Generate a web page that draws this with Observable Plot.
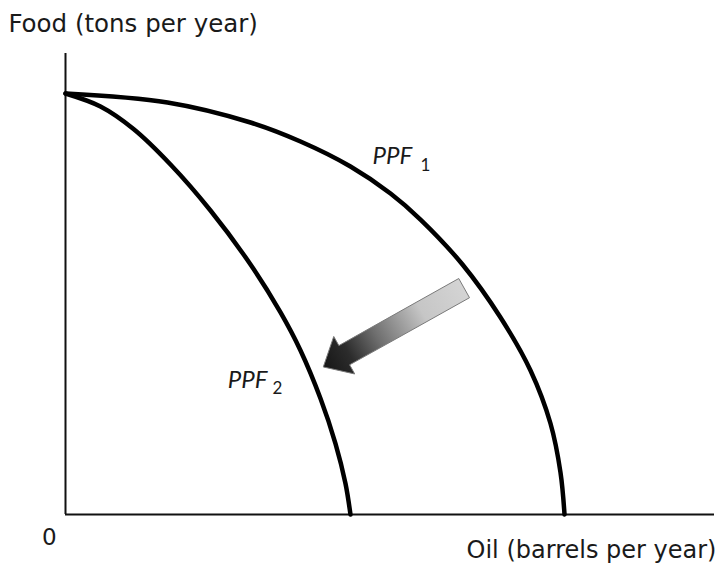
<!DOCTYPE html>
<html><head><meta charset="utf-8">
<script src="https://cdn.jsdelivr.net/npm/d3@7"></script>
<script src="https://cdn.jsdelivr.net/npm/@observablehq/plot@0.6"></script>
<style>html,body{margin:0;padding:0;background:#fff;} #chart svg{display:block;}</style>
</head><body><div id="chart"></div>
<script>
// PPF1 (original frontier) – oil on x, food on y (0–100 index units)
const ppf1Oil  = [0, 15.72, 28.51, 36.21, 43.91, 50.08, 54.70, 61.17, 67.03, 71.65, 74.73, 76.27, 76.89];
const ppf1Food = [91.32, 89.37, 85.03, 80.91, 75.49, 69.63, 63.99, 54.23, 42.73, 31.24, 19.74, 9.11, 0];
// PPF2 (shifted frontier)
const ppf2Oil  = [0, 5.39, 10.48, 16.18, 22.34, 28.51, 33.13, 36.21, 39.29, 41.60, 43.14, 43.91];
const ppf2Food = [91.32, 88.50, 83.62, 75.92, 65.94, 54.23, 43.82, 35.57, 25.16, 15.40, 6.72, 0];
// shift arrow (tail -> tip)
const arrowTail = [61.5, 49.0];
const arrowTip  = [39.8, 31.9];
// curve labels
const curveLabelText = ["PPF", "PPF"];
const curveLabelSub  = ["1", "2"];
const curveLabelX    = [47.3, 25.0];
const curveLabelY    = [76.1, 27.5];
const curveSubX      = [54.7, 31.9];
const curveSubY      = [74.6, 26.2];
// axis texts
const yAxisTitle = "Food (tons per year)";
const yAxisTitlePos = [-8.8, 104.6];
const originLabel = "0";
const originLabelPos = [-2.5, -6.7];
const xAxisTitle = "Oil (barrels per year)";
const xAxisTitlePos = [100.3, -9.5];

const ppf1 = ppf1Oil.map((x, i) => ({x, y: ppf1Food[i]}));
const ppf2 = ppf2Oil.map((x, i) => ({x, y: ppf2Food[i]}));
const labels = curveLabelText.map((t, i) => ({t, x: curveLabelX[i], y: curveLabelY[i]}));
const subs = curveLabelSub.map((t, i) => ({t, x: curveSubX[i], y: curveSubY[i]}));

const FONT = "Lato, 'Open Sans', sans-serif";
const AXFONT = "'DejaVu Sans', 'Open Sans', sans-serif";

function arrowMark(index, scales) {
  const x0 = scales.x(arrowTail[0]), y0 = scales.y(arrowTail[1]);
  const x1 = scales.x(arrowTip[0]),  y1 = scales.y(arrowTip[1]);
  const dx = x1 - x0, dy = y1 - y0, L = Math.hypot(dx, dy);
  const ux = dx / L, uy = dy / L, px = -uy, py = ux;
  const sw = 11, hw = 21.5, hl = 24;
  const bx = x1 - ux * hl, by = y1 - uy * hl;
  const pts = [
    [x0 + px * sw, y0 + py * sw], [bx + px * sw, by + py * sw], [bx + px * hw, by + py * hw],
    [x1, y1],
    [bx - px * hw, by - py * hw], [bx - px * sw, by - py * sw], [x0 - px * sw, y0 - py * sw]
  ];
  const g = d3.create("svg:g");
  const grad = g.append("defs").append("linearGradient")
    .attr("id", "arrowGrad").attr("gradientUnits", "userSpaceOnUse")
    .attr("x1", x0).attr("y1", y0).attr("x2", x1).attr("y2", y1);
  [[0, "#d4d4d4"], [0.3, "#c6c6c6"], [0.62, "#6e6e6e"], [0.82, "#2c2c2c"], [1, "#161616"]]
    .forEach(([o, c]) => grad.append("stop").attr("offset", o).attr("stop-color", c));
  g.append("polygon")
    .attr("points", pts.map(p => p.join(",")).join(" "))
    .attr("fill", "url(#arrowGrad)")
    .attr("stroke", "#7a7a7a").attr("stroke-width", 1).attr("stroke-linejoin", "miter");
  return g.node();
}

const chart = Plot.plot({
  width: 721, height: 567,
  marginLeft: 65, marginRight: 7, marginTop: 53, marginBottom: 53,
  x: {domain: [0, 100], axis: null},
  y: {domain: [0, 100], axis: null},
  style: {background: "#fff", color: "#1a1a1a"},
  marks: [
    Plot.ruleX([0], {stroke: "#111", strokeWidth: 2}),
    Plot.ruleY([0], {stroke: "#111", strokeWidth: 2}),
    Plot.line(ppf1, {x: "x", y: "y", curve: "catmull-rom", stroke: "#000", strokeWidth: 4.5}),
    Plot.line(ppf2, {x: "x", y: "y", curve: "catmull-rom", stroke: "#000", strokeWidth: 4.5}),
    arrowMark,
    Plot.text(labels, {x: "x", y: "y", text: "t", textAnchor: "start", lineAnchor: "bottom",
      fontSize: 24, fontStyle: "italic", fontFamily: FONT, fill: "#1a1a1a"}),
    Plot.text(subs, {x: "x", y: "y", text: "t", textAnchor: "start", lineAnchor: "bottom",
      fontSize: 17, fontFamily: FONT, fill: "#1a1a1a"}),
    Plot.text([yAxisTitle], {x: () => yAxisTitlePos[0], y: () => yAxisTitlePos[1], text: d => d,
      textAnchor: "start", lineAnchor: "bottom", fontSize: 24.5, fontFamily: AXFONT, fill: "#1a1a1a"}),
    Plot.text([originLabel], {x: () => originLabelPos[0], y: () => originLabelPos[1], text: d => d,
      textAnchor: "middle", lineAnchor: "bottom", fontSize: 23, fontFamily: AXFONT, fill: "#1a1a1a"}),
    Plot.text([xAxisTitle], {x: () => xAxisTitlePos[0], y: () => xAxisTitlePos[1], text: d => d,
      textAnchor: "end", lineAnchor: "bottom", fontSize: 24, fontFamily: AXFONT, fill: "#1a1a1a"})
  ]
});
document.getElementById("chart").appendChild(chart);
</script>
</body></html>
